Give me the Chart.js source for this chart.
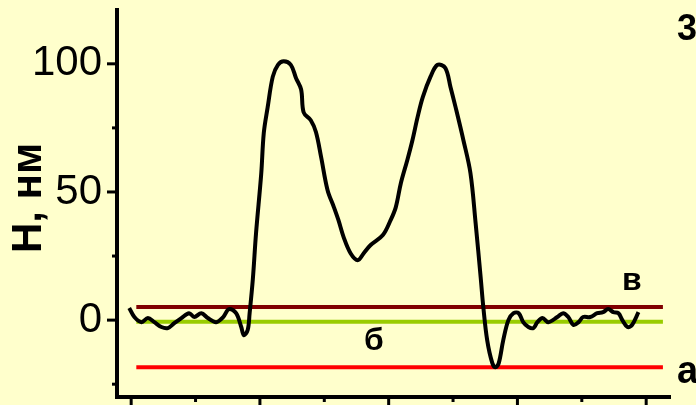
<!DOCTYPE html>
<html>
<head>
<meta charset="utf-8">
<script src="https://cdn.jsdelivr.net/npm/chart.js@4/dist/chart.umd.min.js"></script>
<style>
  html, body { margin: 0; padding: 0; background: #ffffcc; }
  #wrap { width: 696px; height: 405px; }
</style>
</head>
<body>
<div id="wrap"><canvas id="chart"></canvas></div>
<script>
// profile across the sample (x in arbitrary units, H in nm)
const profileX = [-0.3, 0.5, 1.6, 2.6, 3.6, 4.7, 5.7, 6.7, 7.8, 9.0, 9.8, 10.9, 11.9, 13.2, 14.3, 15.2, 16.3, 17.1, 17.5, 18.1, 18.4,
  18.9, 19.4, 20.2, 20.6, 21.2, 22.0, 22.8, 23.7, 24.8, 25.6, 26.4, 26.8, 27.9, 28.7, 29.5, 30.5, 31.5, 32.2, 33.0, 34.1, 35.2,
  36.1, 37.2, 39.1, 40.3, 41.1, 41.9, 42.9, 43.7, 44.5, 45.3, 46.5, 47.6, 48.8, 49.6, 50.4, 51.6, 52.7, 53.5, 54.3, 54.7,
  55.3, 56.1, 56.6, 57.1, 57.8, 58.6, 59.4, 60.2, 60.9, 61.7, 62.5, 63.1, 63.9, 64.8, 66.2, 67.1, 67.9, 68.7, 69.5, 70.2,
  71.3, 72.4, 73.3, 74.1, 74.9, 75.7, 76.3, 77.1, 77.8, 78.8];
const profileH = [4.7, 1.2, -0.8, 0.8, -0.8, -2.7, -3.1, -1.2, 0.8, 2.7, 1.2, 2.7, 0.8, -0.8, 1.2, 4.3, 2.7, -2.7, -5.9, -3.9, 2.7,
  16, 34, 57, 73, 83, 95, 99.6, 101, 99.6, 94.5, 90, 81, 78, 73.4, 63.7, 50.8, 44, 39, 32.4, 26, 23.4,
  26, 29.3, 33.2, 39, 44, 53.5, 62.5, 70.3, 79.3, 87, 95, 99.6, 98.4, 91, 83, 70.3, 57.4, 38, 16.4, 5.1,
  -7.8, -16.8, -18.4, -16.8, -7.8, 0, 2.7, 2.7, -0.8, -2.7, -3.1, -0.8, 0.8, -0.8, 1.2, 2.7, 1.2, -1.9, -0.8, 1.2,
  1.2, 2.7, 3.1, 4.3, 3.1, 2.7, 0, -2.7, -1.9, 3.1];

// reference levels а, б, в
const levelNames = ["а", "б", "в"];
const levelValues = [-18.4, -0.6, 5.1];
const levelColors = ["#ff0000", "#99cc00", "#800000"];
const levelSpan = [0.8, 82.6];

const yMajorTicks = [0, 50, 100];
const yMinorTicks = [-25, 25, 75];
const xMajorTicks = [0, 20, 40, 60, 80];
const xMinorTicks = [10, 30, 50, 70];

const profileData = profileX.map((x, i) => ({ x: x, y: profileH[i] }));

const datasets = [{
  data: profileData,
  borderColor: "#000",
  borderWidth: 4,
  pointRadius: 0,
  tension: 0.35,
  clip: false
}];
levelValues.forEach((v, i) => {
  datasets.push({
    data: [{ x: levelSpan[0], y: v }, { x: levelSpan[1], y: v }],
    borderColor: levelColors[i],
    borderWidth: 4,
    pointRadius: 0
  });
});

const decor = {
  id: "decor",
  beforeDraw(chart) {
    const ctx = chart.ctx;
    ctx.save();
    ctx.fillStyle = "#ffffcc";
    ctx.fillRect(0, 0, chart.width, chart.height);
    ctx.restore();
  },
  afterDraw(chart) {
    const ctx = chart.ctx;
    const a = chart.chartArea;
    const xs = chart.scales.x, ys = chart.scales.y;
    ctx.save();
    ctx.strokeStyle = "#000";
    ctx.lineWidth = 3;
    function seg(x1, y1, x2, y2) {
      ctx.beginPath(); ctx.moveTo(x1, y1); ctx.lineTo(x2, y2); ctx.stroke();
    }
    yMajorTicks.forEach(v => { const p = ys.getPixelForValue(v); seg(a.left - 10, p, a.left, p); });
    yMinorTicks.forEach(v => { const p = ys.getPixelForValue(v); seg(a.left - 5, p, a.left, p); });
    xMajorTicks.forEach(v => { const p = xs.getPixelForValue(v); seg(p, a.bottom, p, a.bottom + 12); });
    xMinorTicks.forEach(v => { const p = xs.getPixelForValue(v); seg(p, a.bottom, p, a.bottom + 5); });

    // axis title
    ctx.fillStyle = "#000";
    ctx.font = 'bold 42px "Liberation Sans"';
    ctx.textAlign = "center";
    ctx.textBaseline = "middle";
    ctx.translate(29, 198);
    ctx.rotate(-Math.PI / 2);
    ctx.fillText("H, нм", 0, 0);
    ctx.restore();

    // level labels
    ctx.save();
    ctx.fillStyle = "#000";
    ctx.font = 'bold 32px "Liberation Sans"';
    ctx.textAlign = "left";
    ctx.textBaseline = "alphabetic";
    ctx.fillText(levelNames[2], 622, ys.getPixelForValue(levelValues[2]) - 17);
    ctx.fillText(levelNames[1], 364, ys.getPixelForValue(levelValues[1]) + 28);
    ctx.font = 'bold 38px "Liberation Sans"';
    ctx.fillText(levelNames[0], 677, ys.getPixelForValue(levelValues[0]) + 16);
    ctx.font = 'bold 36px "Liberation Sans"';
    ctx.fillText("3", 677, 40);
    ctx.restore();
  }
};

new Chart(document.getElementById("chart"), {
  type: "line",
  data: { datasets: datasets },
  options: {
    responsive: true,
    maintainAspectRatio: false,
    animation: false,
    layout: { padding: { top: 10, right: 26, bottom: 0, left: 0 } },
    plugins: { legend: { display: false }, tooltip: { enabled: false } },
    scales: {
      x: {
        type: "linear",
        min: -2.2,
        max: 83.7,
        grid: { display: false, drawTicks: false },
        border: { display: true, color: "#000", width: 4 },
        ticks: { display: false },
        afterFit(s) { s.height = 8; s.paddingLeft = 0; s.paddingRight = 0; }
      },
      y: {
        min: -30,
        max: 121,
        grid: { display: false, drawTicks: true, tickLength: 8 },
        border: { display: true, color: "#000", width: 4 },
        ticks: {
          stepSize: 25,
          autoSkip: false,
          padding: 7,
          color: "#000",
          font: { family: "Liberation Sans", size: 42 },
          callback: v => (yMajorTicks.includes(v) ? String(v) : "")
        },
        afterFit(s) { s.width = 117; s.paddingTop = 0; s.paddingBottom = 0; }
      }
    }
  },
  plugins: [decor]
});
</script>
</body>
</html>
